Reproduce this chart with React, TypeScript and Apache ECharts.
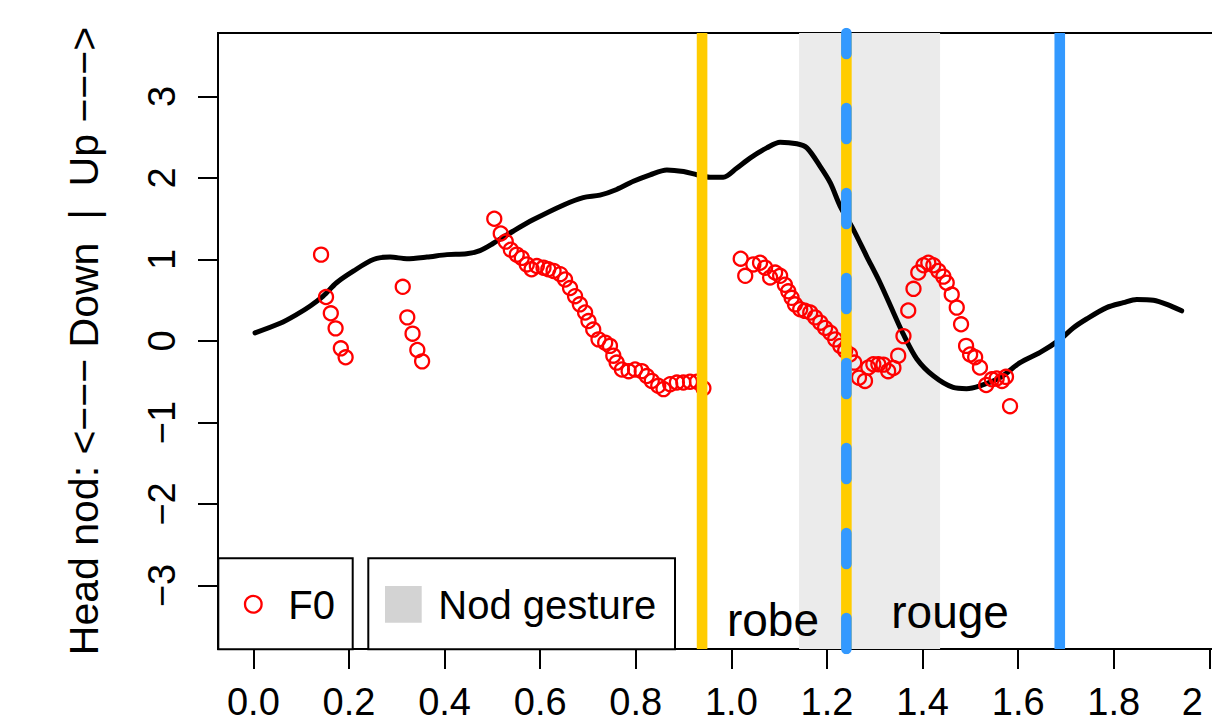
import { useEffect, useRef } from "react";
import * as echarts from "echarts";

const FONT = "'Liberation Sans', Arial, Helvetica, sans-serif";

const xTicks = [0, 0.2, 0.4, 0.6, 0.8, 1.0, 1.2, 1.4, 1.6, 1.8, 2.0];
const yTicks = [-3, -2, -1, 0, 1, 2, 3];
const X_MIN = -0.074;
const X_MAX = 2.0808;
const Y_MIN = -3.78;
const Y_MAX = 3.78;

const nodTime = [
  0.0035, 0.056, 0.091, 0.119, 0.146, 0.174, 0.209, 0.251, 0.286, 0.321, 0.363, 0.405, 0.446, 0.474,
  0.502, 0.544, 0.586, 0.649, 0.69, 0.725, 0.76, 0.795, 0.83, 0.865, 0.9, 0.928, 0.955, 0.983, 1.011,
  1.039, 1.074, 1.102, 1.137, 1.158, 1.186, 1.207, 1.228, 1.255, 1.283, 1.311, 1.339, 1.36, 1.388,
  1.423, 1.464, 1.492, 1.52, 1.562, 1.604, 1.646, 1.688, 1.715, 1.743, 1.785, 1.82, 1.848, 1.883,
  1.911, 1.942,
];
const nodValue = [
  0.1, 0.217, 0.327, 0.43, 0.55, 0.715, 0.857, 1.0, 1.03, 1.01, 1.03, 1.06, 1.07, 1.11,
  1.2, 1.35, 1.49, 1.67, 1.76, 1.79, 1.86, 1.96, 2.04, 2.1, 2.08, 2.04, 2.01, 2.01, 2.12,
  2.245, 2.37, 2.44, 2.42, 2.37, 2.14, 1.94, 1.65, 1.37, 1.04, 0.715, 0.35, 0.08, -0.22,
  -0.43, -0.57, -0.585, -0.55, -0.45, -0.265, -0.14, 0.02, 0.16, 0.27, 0.41, 0.47, 0.51, 0.5,
  0.45, 0.37,
];

const f0Time = [
  0.1416, 0.152, 0.162, 0.172, 0.183, 0.193,
  0.3125, 0.322, 0.333, 0.343, 0.353,
  0.504, 0.5175, 0.528, 0.5385, 0.551, 0.5615, 0.572, 0.582, 0.593, 0.607, 0.617, 0.628, 0.642,
  0.652, 0.6625, 0.673, 0.683, 0.694, 0.701, 0.711, 0.722, 0.736, 0.746, 0.753, 0.76, 0.771,
  0.785, 0.7985, 0.8125, 0.823, 0.8335, 0.847, 0.858, 0.872, 0.886, 0.8995, 0.9135, 0.928, 0.9415,
  1.0195, 1.029, 1.046, 1.06, 1.0705, 1.081, 1.0915, 1.102, 1.112, 1.119, 1.126, 1.133, 1.144,
  1.154, 1.165, 1.175, 1.186, 1.196, 1.207, 1.217, 1.228, 1.238, 1.248, 1.257, 1.267, 1.2795,
  1.2865, 1.297, 1.3075, 1.318, 1.328, 1.339, 1.349, 1.36, 1.37, 1.381, 1.391, 1.402, 1.412,
  1.4226, 1.433, 1.4435, 1.4505, 1.461, 1.4715, 1.4805, 1.491, 1.4995, 1.51, 1.52, 1.533, 1.545,
  1.555, 1.566, 1.5745, 1.583,
];
const f0Value = [
  1.06, 0.54, 0.34, 0.155, -0.09, -0.2,
  0.665, 0.29, 0.09, -0.11, -0.25,
  1.5, 1.32, 1.22, 1.12, 1.06, 1.02, 0.94, 0.88, 0.92, 0.9, 0.88, 0.86, 0.82,
  0.755, 0.65, 0.55, 0.45, 0.35, 0.245, 0.14, 0.02, -0.02, -0.06, -0.18, -0.265, -0.35,
  -0.37, -0.35, -0.37, -0.43, -0.49, -0.55, -0.59, -0.53, -0.51, -0.51, -0.5, -0.5, -0.58,
  1.01, 0.8, 0.94, 0.96, 0.9, 0.78, 0.84, 0.8, 0.69, 0.61, 0.53, 0.45, 0.39,
  0.37, 0.35, 0.29, 0.225, 0.16, 0.1, 0.02, -0.06, -0.12, -0.165, -0.265, -0.45, -0.49,
  -0.325, -0.285, -0.285, -0.29, -0.37, -0.33, -0.18, 0.06, 0.375, 0.64, 0.84, 0.93, 0.96,
  0.93, 0.86, 0.79, 0.715, 0.57, 0.41, 0.205, -0.06, -0.165, -0.2, -0.325, -0.54, -0.47,
  -0.46, -0.49, -0.44, -0.8,
];

const nodGesture = [1.1416, 1.4366];
const yellowLines = [0.9387, 1.2406];
const blueSolidLines = [1.687];
const blueDashedLines = [1.2406];

const words = ["robe", "rouge"];
const wordX = [1.087, 1.4575];
const wordY = [-3.43, -3.325];

const YELLOW = "#FFCC00";
const BLUE = "#3399FF";

function vline(x: number, color: string, dashed: boolean, z: number) {
  return {
    type: "line",
    data: [
      [x, Y_MAX],
      [x, Y_MIN],
    ],
    showSymbol: false,
    symbol: "none",
    silent: true,
    z,
    clip: true,
    lineStyle: dashed
      ? { color, width: 10.6, type: [31, 54], dashOffset: 9.7, cap: "round", opacity: 1 }
      : { color, width: 10.6, type: "solid", cap: "butt", opacity: 1 },
  };
}

export default function App() {
  const ref = useRef<HTMLDivElement>(null);
  useEffect(() => {
    if (!ref.current) return;
    const chart = echarts.init(ref.current, null, { renderer: "svg" });
    const fmtY = (v: number) => (v < 0 ? "\u2212" + Math.abs(v) : String(v));
    const fmtX = (v: number) => (Math.abs(v - 2) < 1e-9 ? "{last|2}" : v.toFixed(1));
    const option: any = {
      animation: false,
      backgroundColor: "#ffffff",
      textStyle: { fontFamily: FONT },
      grid: {
        left: 218,
        top: 33,
        width: 1030,
        height: 616,
        show: true,
        borderColor: "#000",
        borderWidth: 2,
        backgroundColor: "transparent",
        containLabel: false,
        outerBoundsMode: "none",
      },
      xAxis: {
        type: "value",
        min: X_MIN,
        max: X_MAX,
        axisLine: { show: false, onZero: false },
        splitLine: { show: false },
        axisTick: {
          show: true,
          customValues: xTicks,
          length: 20,
          lineStyle: { color: "#000", width: 2 },
        },
        axisLabel: {
          show: true,
          customValues: xTicks,
          formatter: fmtX,
          color: "#000",
          fontSize: 38,
          fontFamily: FONT,
          margin: 34,
          hideOverlap: false,
          rich: {
            last: {
              fontSize: 38,
              fontFamily: FONT,
              color: "#000",
              padding: [0, 34, 0, 0],
            },
          },
        },
      },
      yAxis: {
        type: "value",
        min: Y_MIN,
        max: Y_MAX,
        name: "Head nod: <\u2212\u2212\u2212 Down  |  Up \u2212\u2212\u2212>",
        nameLocation: "middle",
        nameRotate: 90,
        nameGap: 114,
        nameTextStyle: { color: "#000", fontSize: 41, fontFamily: FONT },
        axisLine: { show: false, onZero: false },
        splitLine: { show: false },
        axisTick: {
          show: true,
          customValues: yTicks,
          length: 20,
          lineStyle: { color: "#000", width: 2 },
        },
        axisLabel: {
          show: true,
          customValues: yTicks,
          formatter: fmtY,
          rotate: 90,
          color: "#000",
          fontSize: 38,
          fontFamily: FONT,
          margin: 37,
        },
      },
      series: [
        {
          type: "line",
          data: [],
          z: 1,
          silent: true,
          markArea: {
            silent: true,
            itemStyle: { color: "#EBEBEB", opacity: 1 },
            data: [[{ xAxis: nodGesture[0] }, { xAxis: nodGesture[1] }]],
          },
        },
        {
          type: "line",
          data: nodTime.map((t, i) => [t, nodValue[i]]),
          showSymbol: false,
          symbol: "none",
          smooth: 0.3,
          z: 2,
          silent: true,
          lineStyle: { color: "#000", width: 5, cap: "round", join: "round", opacity: 1 },
        },
        {
          type: "scatter",
          data: f0Time.map((t, i) => [t, f0Value[i]]),
          symbol: "circle",
          symbolSize: 14,
          z: 3,
          silent: true,
          itemStyle: {
            color: "rgba(0,0,0,0)",
            borderColor: "#FF0000",
            borderWidth: 2.3,
            opacity: 1,
          },
        },
        ...yellowLines.map((x) => vline(x, YELLOW, false, 4)),
        ...blueSolidLines.map((x) => vline(x, BLUE, false, 4)),
        ...blueDashedLines.map((x) => vline(x, BLUE, true, 5)),
        {
          type: "scatter",
          data: words.map((w, i) => ({ value: [wordX[i], wordY[i]], name: w })),
          symbolSize: 0,
          z: 6,
          silent: true,
          itemStyle: { opacity: 1 },
          label: {
            show: true,
            position: "inside",
            formatter: (p: any) => p.name,
            color: "#000",
            opacity: 1,
            fontSize: 46,
            fontFamily: FONT,
          },
        },
      ],
      graphic: [
        {
          type: "rect",
          z: 100,
          shape: { x: 218.3, y: 558.3, width: 134.4, height: 91 },
          style: { fill: "#fff", stroke: "#000", lineWidth: 2 },
        },
        {
          type: "circle",
          z: 101,
          shape: { cx: 253.3, cy: 604.3, r: 8.3 },
          style: { fill: "none", stroke: "#FF0000", lineWidth: 2.3 },
        },
        {
          type: "text",
          z: 101,
          x: 288.3,
          y: 604.5,
          style: {
            text: "F0",
            fill: "#000",
            fontSize: 40,
            fontFamily: FONT,
            verticalAlign: "middle",
            align: "left",
          },
        },
        {
          type: "rect",
          z: 100,
          shape: { x: 368.3, y: 558.3, width: 306.7, height: 91 },
          style: { fill: "#fff", stroke: "#000", lineWidth: 2 },
        },
        {
          type: "rect",
          z: 101,
          shape: { x: 385, y: 586, width: 36.7, height: 36.7 },
          style: { fill: "#D3D3D3" },
        },
        {
          type: "text",
          z: 101,
          x: 438.3,
          y: 604.5,
          style: {
            text: "Nod gesture",
            fill: "#000",
            fontSize: 40,
            fontFamily: FONT,
            verticalAlign: "middle",
            align: "left",
          },
        },
      ],
    };
    chart.setOption(option);
    return () => chart.dispose();
  }, []);
  return (
    <div
      ref={ref}
      style={{ position: "fixed", left: 0, top: 0, width: 1212, height: 724, background: "#fff" }}
    />
  );
}
